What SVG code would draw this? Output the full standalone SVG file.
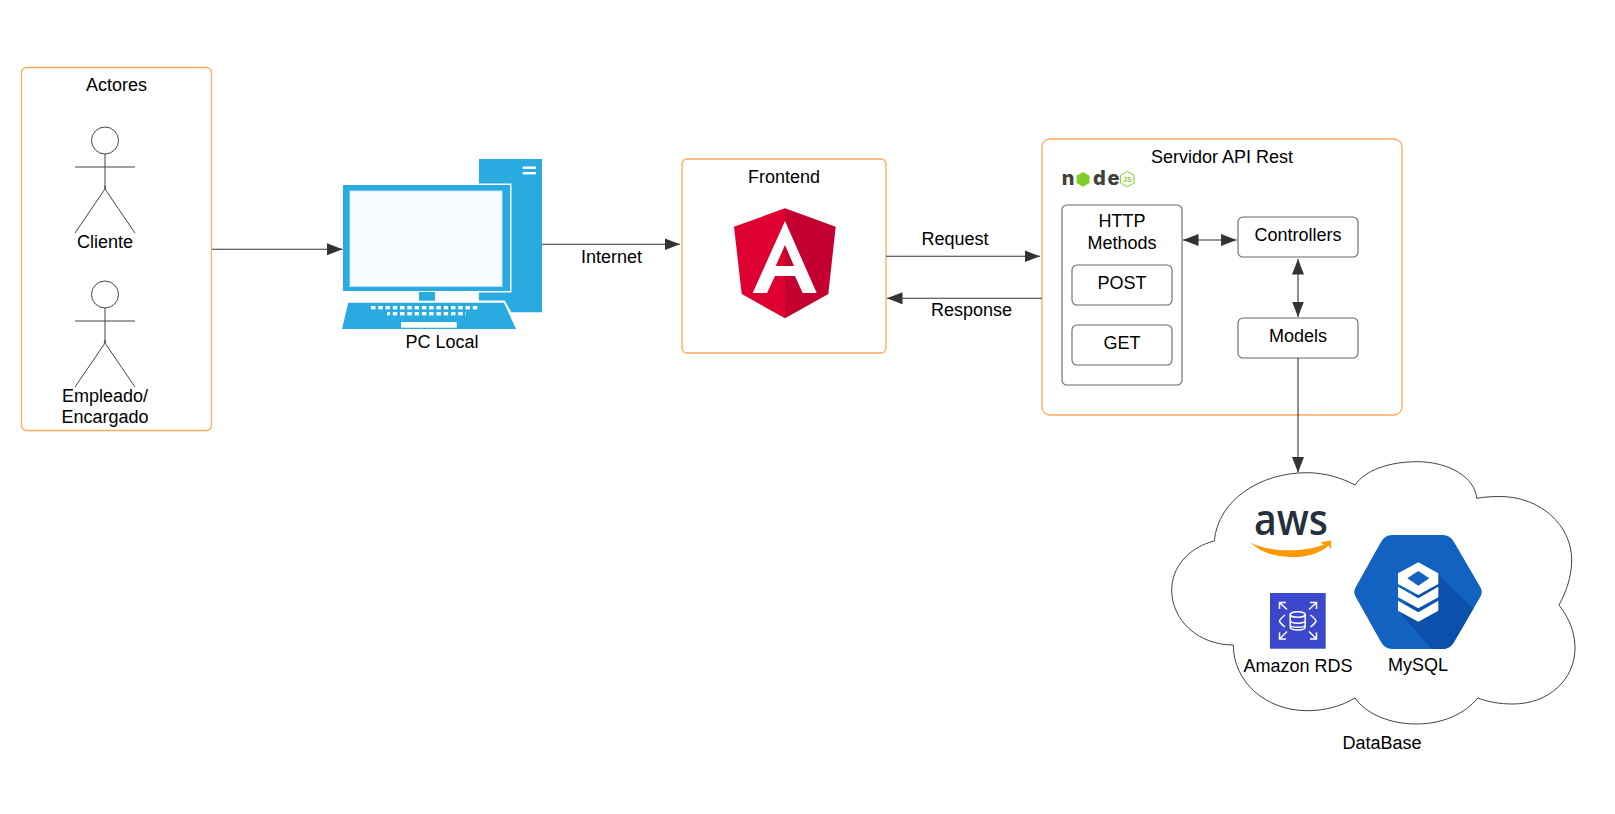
<svg xmlns="http://www.w3.org/2000/svg" width="1615" height="814" viewBox="0 0 1615 814">
<style>
text{font-family:"Liberation Sans",Arial,sans-serif;font-size:18px;fill:#000;text-anchor:middle}
.box{fill:#fff;stroke:#fdab5f;stroke-width:1.3}
.inner{fill:#fff;stroke:#666;stroke-width:1.1}
.fig{fill:none;stroke:#444;stroke-width:1}
.link{fill:none;stroke:#333;stroke-width:1.1}
.one{marker-end:url(#arr)}
.two{marker-start:url(#arr);marker-end:url(#arr)}
.blue{fill:#29abe2}
.wht{fill:#fff}
.rdsl{fill:none;stroke:#fff;stroke-width:1.5}
</style>
<defs>
<marker id="arr" markerUnits="userSpaceOnUse" markerWidth="16" markerHeight="13" refX="15.5" refY="6" orient="auto-start-reverse"><path d="M0 0L15.5 6L0 12Z" fill="#333"/></marker>
<pattern id="keys" width="7.27" height="6" patternUnits="userSpaceOnUse" x="371" y="306"><rect width="4.4" height="3.4" fill="#fff"/></pattern>
<clipPath id="hexclip"><path id="hexp" d="M1355.5 587.5L1381 542Q1385 535 1392 535H1443Q1450 535 1454 542L1480.5 587.5Q1483 592 1480.5 596.5L1454 642Q1450 649 1443 649H1392Q1385 649 1381 642L1355.5 596.5Q1353 592 1355.5 587.5Z"/></clipPath>
</defs>
<rect width="1615" height="814" fill="#fff"/>

<g id="actores">
<rect class="box" x="21.5" y="67.5" width="190" height="363" rx="5"/>
<text x="116.5" y="90.5">Actores</text>
</g>
<g id="cliente">
<circle class="fig" cx="105" cy="140.5" r="13.5"/>
<path class="fig" d="M105 154V185.5Q105.3 188.5 106 190.5L135 233M105 185.5Q104.7 188.5 104 190.5L75 233M75 167H135"/>
<text x="105" y="248">Cliente</text>
</g>
<g id="empleado">
<circle class="fig" cx="105" cy="294.5" r="13.5"/>
<path class="fig" d="M105 308V339.5Q105.3 342.5 106 344.5L135 387M105 339.5Q104.7 342.5 104 344.5L75 387M75 321H135"/>
<text x="105" y="401.5">Empleado/</text>
<text x="105" y="423">Encargado</text>
</g>

<g id="pc-local">
<path class="blue" d="M479 159H542V312.3H511.5L504.5 300.5H479Z"/>
<rect class="wht" x="522.7" y="166.5" width="13.3" height="2.4"/>
<rect class="wht" x="522.7" y="172" width="13.3" height="2.4"/>
<rect class="wht" x="344" y="183.5" width="167.5" height="109"/>
<rect class="blue" x="343" y="185" width="167" height="106"/>
<rect x="350" y="191" width="152" height="95.5" fill="#f9fcfe" stroke="#bfe6f7" stroke-width="1"/>
<rect class="wht" x="418" y="291" width="18" height="10"/>
<rect class="blue" x="419" y="292" width="16" height="8.7"/>
<path class="wht" d="M347 301H505L518 330H340Z"/>
<path class="blue" d="M348.3 302.7H504L516 329H342Z"/>
<rect x="371" y="306" width="109" height="6" fill="url(#keys)"/>
<rect x="387" y="312" width="79" height="6" fill="url(#keys)"/>
<rect class="wht" x="401" y="322" width="55.7" height="5.7"/>
<text x="442" y="348">PC Local</text>
</g>

<g id="frontend">
<rect class="box" x="682" y="159" width="204" height="194" rx="5"/>
<text x="784" y="182.5">Frontend</text>
<path fill="#dd0031" d="M785 208.3L734 226.7L741.7 294L785 318.3Z"/>
<path fill="#c3002f" d="M785 208.3L835.7 226.7L828.3 294L785 318.3Z"/>
<path class="wht" fill-rule="evenodd" d="M785 221L816.7 293H802.7L795 276H775L767 293H752.7ZM785 245L775.7 266H794Z"/>
</g>

<g id="servidor">
<rect class="box" x="1042" y="139" width="360" height="276" rx="8"/>
<text x="1222" y="162.5">Servidor API Rest</text>
</g>
<g id="nodejs-logo">
<text x="1068 1099.5 1113.5" y="184.5" style="font-family:Inter,'Liberation Sans',sans-serif;font-size:20px;font-weight:800;fill:#404137">nde</text>
<path fill="#83cd29" d="M1083 172L1089.5 175.7V183L1083 186.7L1076.5 183V175.7Z"/>
<path fill="none" stroke="#83cd29" stroke-width="1" d="M1127.3 171.5L1134 175.3V183L1127.3 186.8L1120.6 183V175.3Z"/>
<text x="1127.3" y="181.7" style="font-size:7px;font-weight:700;fill:#83cd29">JS</text>
</g>
<g id="http-methods">
<rect class="inner" x="1062" y="205" width="120" height="180" rx="5"/>
<text x="1122" y="227">HTTP</text>
<text x="1122" y="249">Methods</text>
</g>
<g id="post">
<rect class="inner" x="1072" y="265" width="100" height="40" rx="5"/>
<text x="1122" y="288.5">POST</text>
</g>
<g id="get">
<rect class="inner" x="1072" y="325" width="100" height="40" rx="5"/>
<text x="1122" y="348.5">GET</text>
</g>
<g id="controllers">
<rect class="inner" x="1238" y="217" width="120" height="40" rx="5"/>
<text x="1298" y="240.5">Controllers</text>
</g>
<g id="models">
<rect class="inner" x="1238" y="318" width="120" height="40" rx="5"/>
<text x="1298" y="341.5">Models</text>
</g>

<g id="database">
<path fill="#fff" stroke="#444" stroke-width="1" d="M1214.3 541C1218 500 1260 472.7 1307 472.7C1325 472.7 1342 478 1355 485C1365 470 1390 461.7 1416.7 461.7C1450 461.7 1475 478 1476.7 498.3C1484 497 1492 496.5 1500 496.5C1540 496.5 1571.7 525 1571.7 560C1571.7 577 1566 592 1559 605C1569 618 1575 632 1575 648C1575 680 1548 704 1513 704C1500 704 1488 702 1477.7 698C1465 714 1442 724 1416.7 724C1390 724 1366 714 1355 698C1342 706 1325 710.7 1307 710.7C1266 710.7 1233.3 682 1233.3 645C1198 645 1171.7 620 1171.7 590C1171.7 566 1190 547 1214.3 541Z"/>
<text x="1382" y="749">DataBase</text>
</g>
<g id="aws-logo">
<text x="1291" y="535" textLength="74" lengthAdjust="spacingAndGlyphs" style="font-family:'Open Sans',sans-serif;font-size:43px;font-weight:600;fill:#252f3e">aws</text>
<path fill="#f90" d="M1250.5 542.5C1268 552 1304 553 1324 544.5L1320 542.5L1331 540.5L1331 549L1328.5 545.5C1312 562 1268 561 1250.5 542.5Z"/>
</g>
<g id="amazon-rds">
<rect x="1270" y="593" width="55.7" height="55.7" fill="#3b48cc"/>
<ellipse class="rdsl" cx="1297.7" cy="614.5" rx="7.5" ry="2.8"/>
<path class="rdsl" d="M1290.2 614.5V627C1290.2 631 1305.2 631 1305.2 627V614.5M1290.2 620.5C1290.2 624 1305.2 624 1305.2 620.5M1290.2 625C1290.2 628 1305.2 628 1305.2 625"/>
<path class="rdsl" d="M1285 615Q1280 619 1279.5 621Q1280 623 1285 627M1310.5 615Q1315.5 619 1316 621Q1315.5 623 1310.5 627"/>
<path class="rdsl" d="M1287 609.5L1279.5 602.5M1279.5 609V602.5H1286M1309 609.5L1316.5 602.5M1316.5 609V602.5H1310M1287 631.5L1279.5 639M1279.5 632.5V639H1286M1309 631.5L1316.5 639M1316.5 632.5V639H1310"/>
<text x="1298" y="672">Amazon RDS</text>
</g>
<g id="mysql">
<use href="#hexp" fill="#1263c1"/>
<path clip-path="url(#hexclip)" fill="#0c50ac" d="M1438.3 575L1475 610L1448 655H1437L1398 610.7Z"/>
<path class="wht" fill-rule="evenodd" d="M1418.3 562.3L1438.3 573.3V584L1418.3 595L1398 584V573.3ZM1418.3 571L1407.3 578.3L1418.3 585.7L1429.3 578.3Z"/>
<path class="wht" d="M1398 586.7L1418.3 598.3L1438.3 586.7V597.3L1418.3 608.3L1398 597.3Z"/>
<path class="wht" d="M1398 600.7L1418.3 612.3L1438.3 600.7V610.7L1418.3 621.7L1398 610.7Z"/>
<text x="1418" y="670.5">MySQL</text>
</g>

<g id="connectors">
<path class="link one" d="M212 249.3H342.5"/>
<path class="link one" d="M542 244.3H680"/>
<path class="link one" d="M886 256.3H1040"/>
<path class="link one" d="M1042 298.3H887"/>
<path class="link two" d="M1183 240H1236.5"/>
<path class="link two" d="M1298 259V317"/>
<path class="link one" d="M1298 358V472.5"/>
</g>
<g id="connector-labels">
<text x="611.5" y="262.5">Internet</text>
<text x="955" y="244.5">Request</text>
<text x="971.5" y="316">Response</text>
</g>
</svg>
